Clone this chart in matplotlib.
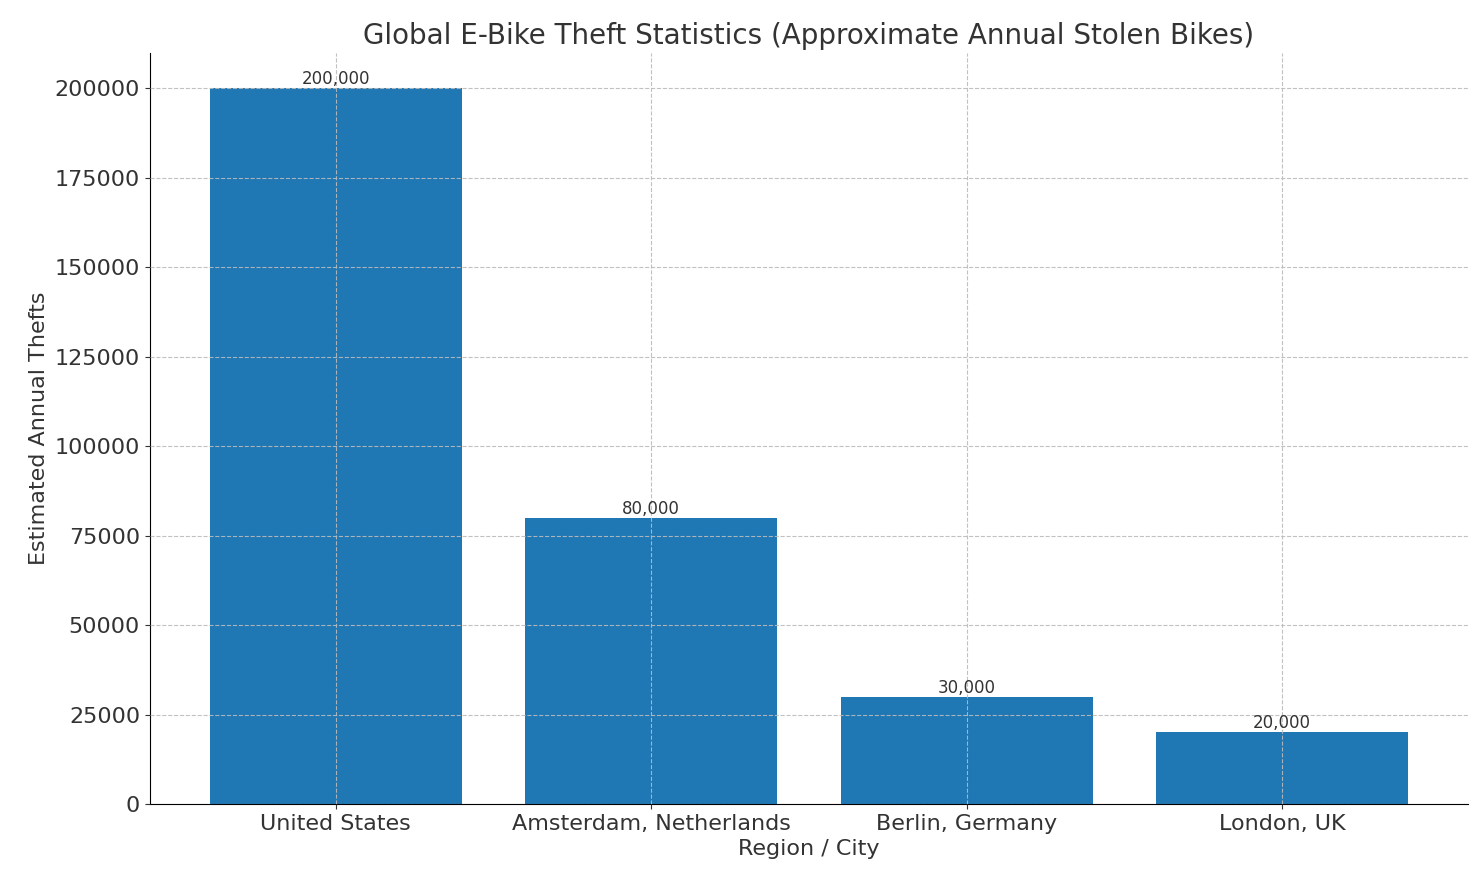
import matplotlib
matplotlib.use("Agg")
import matplotlib.pyplot as plt

categories = ["United States", "Amsterdam, Netherlands", "Berlin, Germany", "London, UK"]
thefts = [200000, 80000, 30000, 20000]

fig = plt.figure(figsize=(14.83, 8.83), dpi=100)
ax = fig.add_axes([0.101, 0.0895, 0.889, 0.851])
bars = ax.bar(categories, thefts, color="#1f77b4", width=0.8, zorder=1)
for b, v in zip(bars, thefts):
    ax.text(b.get_x() + b.get_width() / 2, v, f"{v:,}", ha="center", va="bottom",
            fontsize=12, color="#333333")
ax.set_ylim(0, 210000)
ax.set_xlim(-0.59, 3.59)
ax.grid(True, linestyle="--", color="#bbbbbb", alpha=0.9, zorder=2)
ax.set_axisbelow(False)
for s in ["top", "right"]:
    ax.spines[s].set_visible(False)
ax.tick_params(labelsize=16, colors="#333333", labelcolor="#333333")
ax.set_title("Global E-Bike Theft Statistics (Approximate Annual Stolen Bikes)", fontsize=20, color="#333333")
ax.set_xlabel("Region / City", fontsize=16, color="#333333")
ax.set_ylabel("Estimated Annual Thefts", fontsize=16, color="#333333")
fig.savefig("out.png", dpi=100)
